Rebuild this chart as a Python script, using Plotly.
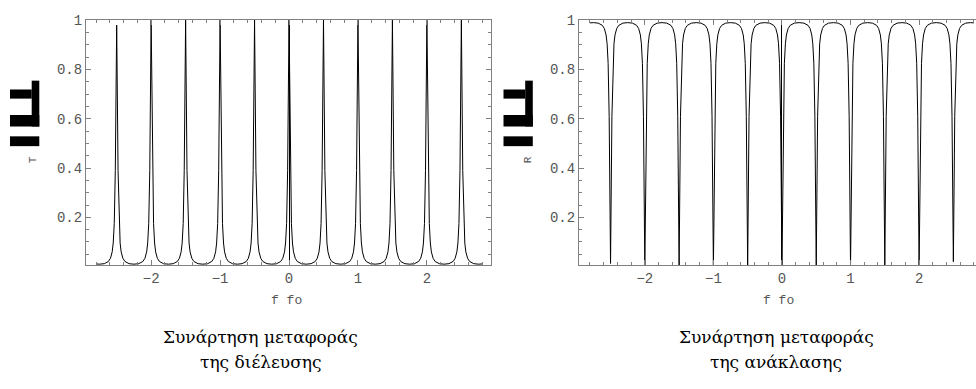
import plotly.graph_objects as go

# ---- data ----
f_over_fo = [
    -2.8, -2.75,
    -2.68, -2.62, -2.59, -2.565, -2.55, -2.535, -2.52, -2.5, -2.48, -2.465, -2.45, -2.435, -2.41, -2.38, -2.32, -2.25,
    -2.18, -2.12, -2.09, -2.065, -2.05, -2.035, -2.02, -2.0, -1.98, -1.965, -1.95, -1.935, -1.91, -1.88, -1.82, -1.75,
    -1.68, -1.62, -1.59, -1.565, -1.55, -1.535, -1.52, -1.5, -1.48, -1.465, -1.45, -1.435, -1.41, -1.38, -1.32, -1.25,
    -1.18, -1.12, -1.09, -1.065, -1.05, -1.035, -1.02, -1.0, -0.98, -0.965, -0.95, -0.935, -0.91, -0.88, -0.82, -0.75,
    -0.68, -0.62, -0.59, -0.565, -0.55, -0.535, -0.52, -0.5, -0.48, -0.465, -0.45, -0.435, -0.41, -0.38, -0.32, -0.25,
    -0.18, -0.12, -0.09, -0.065, -0.05, -0.035, -0.02, 0.0, 0.02, 0.035, 0.05, 0.065, 0.09, 0.12, 0.18, 0.25,
    0.32, 0.38, 0.41, 0.435, 0.45, 0.465, 0.48, 0.5, 0.52, 0.535, 0.55, 0.565, 0.59, 0.62, 0.68, 0.75,
    0.82, 0.88, 0.91, 0.935, 0.95, 0.965, 0.98, 1.0, 1.02, 1.035, 1.05, 1.065, 1.09, 1.12, 1.18, 1.25,
    1.32, 1.38, 1.41, 1.435, 1.45, 1.465, 1.48, 1.5, 1.52, 1.535, 1.55, 1.565, 1.59, 1.62, 1.68, 1.75,
    1.82, 1.88, 1.91, 1.935, 1.95, 1.965, 1.98, 2.0, 2.02, 2.035, 2.05, 2.065, 2.09, 2.12, 2.18, 2.25,
    2.32, 2.38, 2.41, 2.435, 2.45, 2.465, 2.48, 2.5, 2.52, 2.535, 2.55, 2.565, 2.59, 2.62, 2.68, 2.75, 2.8,
]

T_values = [
    0.011, 0.010,
    0.012, 0.021, 0.034, 0.060, 0.096, 0.175, 0.39, 0.98, 0.39, 0.175, 0.096, 0.060, 0.034, 0.021, 0.012, 0.010,
    0.012, 0.021, 0.034, 0.060, 0.096, 0.175, 0.39, 1.0, 0.39, 0.175, 0.096, 0.060, 0.034, 0.021, 0.012, 0.010,
    0.012, 0.021, 0.034, 0.060, 0.096, 0.175, 0.39, 1.0, 0.39, 0.175, 0.096, 0.060, 0.034, 0.021, 0.012, 0.010,
    0.012, 0.021, 0.034, 0.060, 0.096, 0.175, 0.39, 1.0, 0.39, 0.175, 0.096, 0.060, 0.034, 0.021, 0.012, 0.010,
    0.012, 0.021, 0.034, 0.060, 0.096, 0.175, 0.39, 1.0, 0.39, 0.175, 0.096, 0.060, 0.034, 0.021, 0.012, 0.010,
    0.012, 0.021, 0.034, 0.060, 0.096, 0.175, 0.39, 1.0, 0.39, 0.175, 0.096, 0.060, 0.034, 0.021, 0.012, 0.010,
    0.012, 0.021, 0.034, 0.060, 0.096, 0.175, 0.39, 1.0, 0.39, 0.175, 0.096, 0.060, 0.034, 0.021, 0.012, 0.010,
    0.012, 0.021, 0.034, 0.060, 0.096, 0.175, 0.39, 1.0, 0.39, 0.175, 0.096, 0.060, 0.034, 0.021, 0.012, 0.010,
    0.012, 0.021, 0.034, 0.060, 0.096, 0.175, 0.39, 1.0, 0.39, 0.175, 0.096, 0.060, 0.034, 0.021, 0.012, 0.010,
    0.012, 0.021, 0.034, 0.060, 0.096, 0.175, 0.39, 1.0, 0.39, 0.175, 0.096, 0.060, 0.034, 0.021, 0.012, 0.010,
    0.012, 0.021, 0.034, 0.060, 0.096, 0.175, 0.39, 1.0, 0.39, 0.175, 0.096, 0.060, 0.034, 0.021, 0.012, 0.010, 0.011,
]

R_values = [
    0.989, 0.990,
    0.988, 0.979, 0.966, 0.940, 0.904, 0.825, 0.61, 0.013, 0.61, 0.825, 0.904, 0.940, 0.966, 0.979, 0.988, 0.990,
    0.988, 0.979, 0.966, 0.940, 0.904, 0.825, 0.61, 0.0, 0.61, 0.825, 0.904, 0.940, 0.966, 0.979, 0.988, 0.990,
    0.988, 0.979, 0.966, 0.940, 0.904, 0.825, 0.61, 0.0, 0.61, 0.825, 0.904, 0.940, 0.966, 0.979, 0.988, 0.990,
    0.988, 0.979, 0.966, 0.940, 0.904, 0.825, 0.61, 0.0, 0.61, 0.825, 0.904, 0.940, 0.966, 0.979, 0.988, 0.990,
    0.988, 0.979, 0.966, 0.940, 0.904, 0.825, 0.61, 0.0, 0.61, 0.825, 0.904, 0.940, 0.966, 0.979, 0.988, 0.990,
    0.988, 0.979, 0.966, 0.940, 0.904, 0.825, 0.61, 0.0, 0.61, 0.825, 0.904, 0.940, 0.966, 0.979, 0.988, 0.990,
    0.988, 0.979, 0.966, 0.940, 0.904, 0.825, 0.61, 0.0, 0.61, 0.825, 0.904, 0.940, 0.966, 0.979, 0.988, 0.990,
    0.988, 0.979, 0.966, 0.940, 0.904, 0.825, 0.61, 0.0, 0.61, 0.825, 0.904, 0.940, 0.966, 0.979, 0.988, 0.990,
    0.988, 0.979, 0.966, 0.940, 0.904, 0.825, 0.61, 0.0, 0.61, 0.825, 0.904, 0.940, 0.966, 0.979, 0.988, 0.990,
    0.988, 0.979, 0.966, 0.940, 0.904, 0.825, 0.61, 0.0, 0.61, 0.825, 0.904, 0.940, 0.966, 0.979, 0.988, 0.990,
    0.988, 0.979, 0.966, 0.940, 0.904, 0.825, 0.61, 0.02, 0.61, 0.825, 0.904, 0.940, 0.966, 0.979, 0.988, 0.990, 0.989,
]

x_tick_values = [-2, -1, 0, 1, 2]
x_tick_labels = ["\u22122", "\u22121", "0", "1", "2"]
y_tick_values = [0.2, 0.4, 0.6, 0.8, 1.0]
y_tick_labels = ["0.2", "0.4", "0.6", "0.8", "1"]
x_title = "f fo"
y_titles = ["T", "R"]
caption_line1 = ["Συνάρτηση μεταφοράς", "Συνάρτηση μεταφοράς"]
caption_line2 = ["της διέλευσης", "της ανάκλασης"]

W, H = 976, 389
AX = "#808080"
MONO = "Liberation Mono"
SERIF = "DejaVu Serif"
TICKFONT = dict(family=MONO, size=14, color="#555555")

fig = go.Figure()
fig.add_trace(go.Scatter(x=f_over_fo, y=T_values, mode="lines",
                         line=dict(color="black", width=1), xaxis="x", yaxis="y", showlegend=False))
fig.add_trace(go.Scatter(x=f_over_fo, y=R_values, mode="lines",
                         line=dict(color="black", width=1), xaxis="x2", yaxis="y2", showlegend=False))

def px(x):
    return x / W

def py(y):
    return 1 - y / H

def xaxis_cfg(rng, dom, anchor, mirror):
    return dict(domain=dom, range=rng, anchor=anchor,
                showline=True, linecolor=AX, linewidth=1, mirror=mirror,
                ticks="inside", ticklen=5, tickcolor=AX, tickwidth=1,
                tickvals=x_tick_values, ticktext=x_tick_labels, tickfont=TICKFONT,
                ticklabelstandoff=0,
                minor=dict(dtick=0.2, tick0=0, ticks="inside", ticklen=3, tickcolor=AX, showgrid=False),
                showgrid=False, zeroline=True, zerolinecolor="black", zerolinewidth=1)

def yaxis_cfg(dom, anchor, mirror):
    return dict(domain=dom, range=[0.0056, 1.0016], anchor=anchor,
                showline=True, linecolor=AX, linewidth=1, mirror=mirror,
                ticks="inside", ticklen=5, tickcolor=AX, tickwidth=1,
                tickvals=y_tick_values, ticktext=y_tick_labels, tickfont=TICKFONT,
                minor=dict(dtick=0.05, tick0=0, ticks="inside", ticklen=3, tickcolor=AX, showgrid=False),
                showgrid=False, zeroline=False)

ydom = [py(263), py(13)]
fig.update_layout(
    width=W, height=H, margin=dict(l=0, r=0, t=0, b=0),
    paper_bgcolor="white", plot_bgcolor="white",
    font=dict(family=MONO),
    xaxis=xaxis_cfg([-2.945, 2.93], [px(86), px(491)], "y", "allticks"),
    yaxis=yaxis_cfg(ydom, "x", "allticks"),
    xaxis2=xaxis_cfg([-2.96, 2.83], [px(579), 1.0], "y2", "allticks"),
    yaxis2=yaxis_cfg(ydom, "x2", False),
)

ann = []
# x-axis titles
for cx in (286, 778):
    ann.append(dict(x=px(cx), y=py(299), xref="paper", yref="paper", text=x_title, showarrow=False,
                    font=dict(family=MONO, size=13, color="#555555"),
                    xanchor="center", yanchor="middle"))
# small y titles
for cx, t in zip((33, 528), y_titles):
    ann.append(dict(x=px(cx), y=py(156), xref="paper", yref="paper", text=t, showarrow=False, textangle=-90,
                    font=dict(family=MONO, size=11, color="#555555"),
                    xanchor="center", yanchor="middle"))
# captions
for cx, l1, l2 in zip((260, 776), caption_line1, caption_line2):
    ann.append(dict(x=px(cx), y=py(336), xref="paper", yref="paper", text=l1, showarrow=False,
                    font=dict(family=SERIF, size=17, color="black"), xanchor="center", yanchor="middle"))
    ann.append(dict(x=px(cx), y=py(362), xref="paper", yref="paper", text=l2, showarrow=False,
                    font=dict(family=SERIF, size=17, color="black"), xanchor="center", yanchor="middle"))
fig.update_layout(annotations=ann)

# heavy black glyph blocks beside each y axis
shapes = []
for off in (0, 493.5):
    blocks = [(31.7, 75, 39.3, 121.7), (10, 84, 31.7, 93.3), (10, 110, 39.3, 121.7), (10, 131.7, 39.3, 141.7)]
    for x0, y0, x1, y1 in blocks:
        shapes.append(dict(type="rect", xref="paper", yref="paper",
                           x0=px(x0 + off), x1=px(x1 + off), y0=py(y1), y1=py(y0),
                           fillcolor="black", line=dict(width=0)))
fig.update_layout(shapes=shapes)

fig.write_html("out.html", config={"displayModeBar": False},
               post_script="document.body.style.margin='0';document.body.style.overflow='hidden';")
